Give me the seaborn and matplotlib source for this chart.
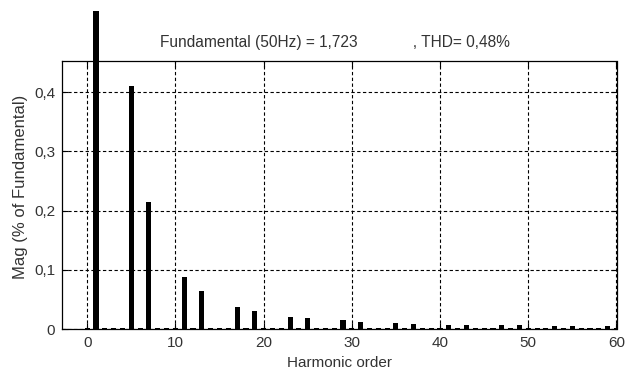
import matplotlib
matplotlib.use("Agg")
import matplotlib.pyplot as plt
from matplotlib.transforms import Bbox, TransformedBbox
import numpy as np
import pandas as pd
import seaborn as sns

# Harmonic orders 0..60 and magnitudes (% of fundamental)
harmonics = list(range(0, 61))
small = 0.0022
magnitudes = [small] * 61
magnitudes[0] = 0.0015
magnitudes[1] = 100.0   # fundamental (clipped in the figure)
major = {
    5: 0.411, 7: 0.214, 11: 0.088, 13: 0.064, 17: 0.038, 19: 0.031,
    23: 0.021, 25: 0.019, 29: 0.0147, 31: 0.0124, 35: 0.0107, 37: 0.0084,
    41: 0.0068, 43: 0.0062, 47: 0.0068, 49: 0.0068, 53: 0.005, 55: 0.005,
    59: 0.005,
}
for k, v in major.items():
    magnitudes[k] = v

title_text = "Fundamental (50Hz) = 1,723             , THD= 0,48%"
xlabel_text = "Harmonic order"
ylabel_text = "Mag (% of Fundamental)"
yticks = [0, 0.1, 0.2, 0.3, 0.4]
ytick_labels = ["0", "0,1", "0,2", "0,3", "0,4"]
xticks = [0, 10, 20, 30, 40, 50, 60]

sns.set_theme(style="white")
plt.rcParams["font.family"] = ["Liberation Sans", "DejaVu Sans"]
txt_color = "#333333"

df = pd.DataFrame({"h": harmonics, "mag": magnitudes})

fig = plt.figure(figsize=(6.25, 3.69), dpi=100)
ax = fig.add_axes([0.0992, 0.1084, 0.8872, 0.7263])
sns.barplot(data=df, x="h", y="mag", native_scale=True, color="black",
            width=0.58, saturation=1, ax=ax, linewidth=0, edgecolor="black")

ax.set_xlim(-2.85, 60)
ax.set_ylim(0, 0.4527)
ax.set_xticks(xticks)
ax.set_xticklabels([str(t) for t in xticks])
ax.set_yticks(yticks)
ax.set_yticklabels(ytick_labels)

# allow the fundamental bar to extend above the axes
clip = TransformedBbox(Bbox.from_extents(0, 0, 1, 1.187), ax.transAxes)
for p in ax.patches:
    if p.get_height() > 1:
        p.set_clip_box(clip)
        p.set_clip_on(True)

ax.grid(True, color="black", linestyle=(0, (3, 2.2)), linewidth=0.8)
ax.set_axisbelow(False)
for s in ax.spines.values():
    s.set_color("black")
    s.set_linewidth(0.9)
ax.tick_params(direction="in", length=4, width=0.8, colors="black",
               labelcolor=txt_color, labelsize=11, top=True, right=True,
               bottom=True, left=True, pad=5)
ax.set_xlabel(xlabel_text, fontsize=11, color=txt_color, labelpad=4)
ax.set_ylabel(ylabel_text, fontsize=12, color=txt_color)
ax.yaxis.set_label_coords(-0.061, 0.53)

fig.text(0.536, 0.886, title_text, ha="center", va="center", fontsize=11.2,
         color=txt_color)

fig.savefig("out.png", dpi=100)
